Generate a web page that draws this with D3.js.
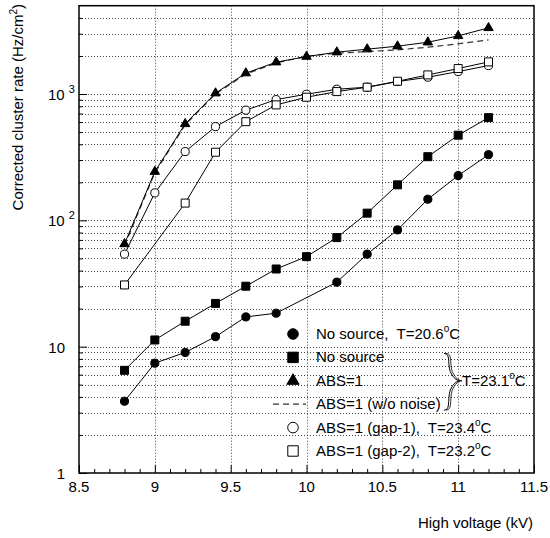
<!DOCTYPE html>
<html>
<head>
<meta charset="utf-8">
<script src="https://cdn.jsdelivr.net/npm/d3@7"></script>
<style>
  body { margin: 0; background: #fff; }
  svg { font-family: "Liberation Sans", Arial, Helvetica, sans-serif; }
  text { white-space: pre; }
</style>
</head>
<body>
<svg id="chart" width="550" height="538"></svg>
<script>
// high voltage (kV) for each measured point
const hv = [8.8, 9.0, 9.2, 9.4, 9.6, 9.8, 10.0, 10.2, 10.4, 10.6, 10.8, 11.0, 11.2];

// null = not measured at that voltage
const noSource206 = [3.7, 7.4, 9.0, 12.0, 17.2, 18.4, null, 32.4, 54, 84, 147, 226, 331];
const noSource231 = [6.5, 11.3, 15.9, 22.0, 30.1, 41.2, 51.6, 73, 114, 191, 319, 472, 650];
const abs1        = [65, 243, 580, 1015, 1462, 1786, 1978, 2143, 2264, 2390, 2570, 2884, 3338];
const abs1NoNoise = [63, 238, 570, 1000, 1440, 1760, 1990, 2104, 2167, 2234, 2348, 2494, 2681];
const gap1        = [54, 165, 350, 552, 745, 903, 996, 1091, 1132, 1254, 1358, 1505, 1680];
const gap2        = [30.8, null, 137, 346, 604, 820, 943, 1045, 1132, 1262, 1416, 1590, 1795];

const xTicks = [8.5, 9, 9.5, 10, 10.5, 11, 11.5];
const yMajor = [1, 10, 100, 1000];

const svg = d3.select("#chart");
const L = 79, R = 534, T = 5.7, B = 473;

const x = d3.scaleLinear().domain([8.5, 11.5]).range([L, R]);
const y = d3.scaleLog().domain([1, 5000]).range([B, T]);

// minor log values 2..9 per decade
const yMinor = [];
[1, 10, 100, 1000].forEach(d => { for (let k = 2; k <= 9; k++) if (d * k < 5000) yMinor.push(d * k); });
const xMinor = d3.range(86, 115).map(v => v / 10).filter(v => !xTicks.some(t => Math.abs(t - v) < 1e-6));

// grid
const grid = svg.append("g").attr("stroke", "#444").attr("stroke-width", 1).attr("stroke-dasharray", "1,2");
grid.selectAll(".hg").data(yMinor.concat(yMajor.slice(1))).enter().append("line")
  .attr("x1", L).attr("x2", R)
  .attr("y1", d => Math.round(y(d)) + 0.5).attr("y2", d => Math.round(y(d)) + 0.5);
grid.selectAll(".vg").data(xTicks.slice(1, -1)).enter().append("line")
  .attr("y1", T).attr("y2", B)
  .attr("x1", d => Math.round(x(d)) + 0.5).attr("x2", d => Math.round(x(d)) + 0.5);

// axes ticks (inward)
const gx = svg.append("g").attr("transform", `translate(0,${B})`);
gx.call(d3.axisBottom(x).tickValues(xTicks).tickSize(-8).tickFormat(""));
const gx2 = svg.append("g").attr("transform", `translate(0,${B})`);
gx2.call(d3.axisBottom(x).tickValues(xMinor).tickSize(-4).tickFormat(""));
const gy = svg.append("g").attr("transform", `translate(${L},0)`);
gy.call(d3.axisLeft(y).tickValues(yMajor).tickSize(-8).tickFormat(""));
const gy2 = svg.append("g").attr("transform", `translate(${L},0)`);
gy2.call(d3.axisLeft(y).tickValues(yMinor).tickSize(-4).tickFormat(""));
svg.selectAll(".domain").remove();
svg.selectAll(".tick line").attr("stroke", "#000").attr("stroke-width", 1);

// frame
svg.append("rect").attr("x", L).attr("y", T).attr("width", R - L).attr("height", B - T)
  .attr("fill", "none").attr("stroke", "#000").attr("stroke-width", 1.5);

// tick labels
svg.selectAll(".xl").data(xTicks).enter().append("text")
  .attr("x", d => x(d)).attr("y", B + 19).attr("text-anchor", "middle")
  .attr("font-size", 15).text(d => d);

yMajor.forEach(d => {
  const t = svg.append("text").attr("y", y(d) + 6).attr("font-size", 15);
  if (d >= 100) {
    t.attr("x", 48).text("10");
    t.append("tspan").attr("dx", 4).attr("dy", -7).attr("font-size", 11).text(Math.log10(d));
  } else {
    t.attr("x", 65).attr("text-anchor", "end").text(d);
  }
});

// axis titles
svg.append("text").attr("x", 533).attr("y", 528).attr("text-anchor", "end")
  .attr("font-size", 15).text("High voltage (kV)");
const yt = svg.append("text").attr("transform", "translate(23,4) rotate(-90)")
  .attr("text-anchor", "end").attr("font-size", 15).text("Corrected cluster rate (Hz/cm");
yt.append("tspan").attr("dy", -6).attr("font-size", 10).text("2");
yt.append("tspan").attr("dy", 6).text(")");

// series
const pts = vals => hv.map((h, i) => ({ h, v: vals[i] })).filter(p => p.v != null);
const line = d3.line().x(p => x(p.h)).y(p => y(p.v));

const series = [
  { vals: noSource206, sym: "circle", fill: "#000" },
  { vals: noSource231, sym: "square", fill: "#000" },
  { vals: abs1, sym: "triangle", fill: "#000" },
  { vals: gap1, sym: "circle", fill: "#fff" },
  { vals: gap2, sym: "square", fill: "#fff" }
];

svg.append("path").datum(pts(abs1NoNoise)).attr("d", line)
  .attr("fill", "none").attr("stroke", "#333").attr("stroke-width", 1.2).attr("stroke-dasharray", "6,4");

const symbolOf = { circle: d3.symbolCircle, square: d3.symbolSquare, triangle: d3.symbolTriangle };
const sizeOf = { circle: 52, square: 64, triangle: 38 };

series.forEach(s => {
  svg.append("path").datum(pts(s.vals)).attr("d", line)
    .attr("fill", "none").attr("stroke", "#000").attr("stroke-width", 1);
});
series.forEach(s => {
  svg.append("g").selectAll("path").data(pts(s.vals)).enter().append("path")
    .attr("transform", p => `translate(${x(p.h)},${y(p.v)})`)
    .attr("d", d3.symbol(symbolOf[s.sym], sizeOf[s.sym]))
    .attr("fill", s.fill).attr("stroke", "#000").attr("stroke-width", 1);
});

// legend
const legendRows = [
  { sym: "circle", fill: "#000", label: ["No source,  T=20.6", "o", "C"] },
  { sym: "square", fill: "#000", label: ["No source"] },
  { sym: "triangle", fill: "#000", label: ["ABS=1"] },
  { sym: "dash", label: ["ABS=1 (w/o noise)"] },
  { sym: "circle", fill: "#fff", label: ["ABS=1 (gap-1),  T=23.4", "o", "C"] },
  { sym: "square", fill: "#fff", label: ["ABS=1 (gap-2),  T=23.2", "o", "C"] }
];
const legY = d3.scalePoint().domain(d3.range(legendRows.length)).range([334, 451]);
legendRows.forEach((r, i) => {
  const cy = legY(i);
  if (r.sym === "dash") {
    svg.append("line").attr("x1", 273).attr("x2", 306).attr("y1", cy).attr("y2", cy)
      .attr("stroke", "#333").attr("stroke-width", 1.2).attr("stroke-dasharray", "6,4");
  } else {
    svg.append("path").attr("transform", `translate(293,${cy})`)
      .attr("d", d3.symbol(symbolOf[r.sym], sizeOf[r.sym] * 1.7))
      .attr("fill", r.fill).attr("stroke", "#000").attr("stroke-width", 1);
  }
  const t = svg.append("text").attr("x", 316).attr("y", cy + 5).attr("font-size", 15).text(r.label[0]);
  if (r.label.length > 1) {
    t.append("tspan").attr("dy", -7).attr("font-size", 10).text(r.label[1]);
    t.append("tspan").attr("dy", 7).text(r.label[2]);
  }
});

// brace grouping rows 2-4
const b0 = legY(1) - 4, b1 = legY(3) + 6, bm = legY(2), bx = 450;
const brace = `M${bx - 6},${b0} C${bx + 2},${b0} ${bx - 4},${bm - 14} ${bx + 2},${bm - 6} C${bx + 4},${bm - 2} ${bx + 8},${bm} ${bx + 10},${bm}` +
  ` C${bx + 8},${bm} ${bx + 4},${bm + 2} ${bx + 2},${bm + 6} C${bx - 4},${bm + 14} ${bx + 2},${b1} ${bx - 6},${b1}`;
svg.append("path").attr("d", brace).attr("fill", "none").attr("stroke", "#000").attr("stroke-width", 1);
svg.append("path").attr("d", brace).attr("transform", "translate(2,0)").attr("fill", "none").attr("stroke", "#000").attr("stroke-width", 0.8);
const tb = svg.append("text").attr("x", 462).attr("y", bm + 5).attr("font-size", 15).text("T=23.1");
tb.append("tspan").attr("dy", -7).attr("font-size", 10).text("o");
tb.append("tspan").attr("dy", 7).text("C");
</script>
</body>
</html>
